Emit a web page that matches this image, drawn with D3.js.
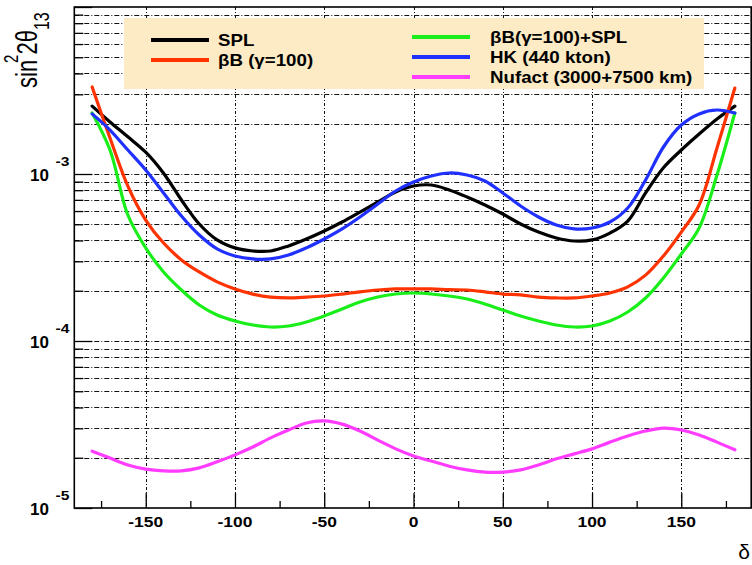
<!DOCTYPE html>
<html><head><meta charset="utf-8">
<script src="https://cdn.jsdelivr.net/npm/d3@7"></script>
<style>html,body{margin:0;padding:0;background:#fff;} svg{display:block;}</style>
</head><body>
<svg id="c" width="752" height="565"></svg>
<script>
// ---------------- data ----------------
const delta = [-180,-170,-160,-150,-140,-130,-120,-110,-100,-90,-80,-70,-60,-50,-40,-30,-20,-10,0,
               10,20,30,40,50,60,70,80,90,100,110,120,130,140,150,160,170,180];
const spl = [2.55e-3,2.05e-3,1.67e-3,1.35e-3,1.01e-3,6.99e-4,5.02e-4,4.03e-4,3.61e-4,3.46e-4,3.46e-4,3.71e-4,4.08e-4,
             4.56e-4,5.16e-4,5.92e-4,6.80e-4,7.80e-4,8.47e-4,8.59e-4,8.02e-4,7.28e-4,6.52e-4,5.76e-4,5.02e-4,4.49e-4,
             4.14e-4,3.97e-4,4.03e-4,4.43e-4,5.23e-4,7.70e-4,1.09e-3,1.392e-3,1.736e-3,2.135e-3,2.55e-3];
const betaBeam = [3.32e-3,1.643e-3,8.47e-4,5.30e-4,3.86e-4,3.06e-4,2.59e-4,2.26e-4,2.05e-4,1.91e-4,1.83e-4,1.81e-4,1.83e-4,
             1.86e-4,1.91e-4,1.97e-4,2.02e-4,2.05e-4,2.05e-4,2.05e-4,2.03e-4,2.02e-4,1.97e-4,1.91e-4,1.89e-4,1.83e-4,
             1.81e-4,1.81e-4,1.86e-4,1.94e-4,2.11e-4,2.48e-4,3.23e-4,4.49e-4,6.52e-4,1.431e-3,3.27e-3];
const betaBeamSpl = [2.32e-3,1.392e-3,5.68e-4,3.61e-4,2.59e-4,2.02e-4,1.643e-4,1.431e-4,1.318e-4,1.247e-4,1.213e-4,1.230e-4,1.300e-4,
             1.411e-4,1.554e-4,1.712e-4,1.834e-4,1.912e-4,1.939e-4,1.912e-4,1.860e-4,1.784e-4,1.666e-4,1.533e-4,1.411e-4,1.318e-4,
             1.247e-4,1.213e-4,1.230e-4,1.318e-4,1.492e-4,1.809e-4,2.384e-4,3.319e-4,4.75e-4,9.86e-4,2.32e-3];
const hk = [2.29e-3,1.834e-3,1.392e-3,1.057e-3,7.70e-4,5.60e-4,4.31e-4,3.56e-4,3.23e-4,3.10e-4,3.10e-4,3.27e-4,3.61e-4,
             4.08e-4,4.69e-4,5.53e-4,6.61e-4,7.91e-4,8.96e-4,9.73e-4,1.014e-3,9.86e-4,9.08e-4,7.70e-4,6.43e-4,5.53e-4,
             4.95e-4,4.69e-4,4.75e-4,5.16e-4,6.26e-4,9.21e-4,1.451e-3,1.965e-3,2.29e-3,2.417e-3,2.319e-3];
const nufact = [2.19e-5,1.99e-5,1.81e-5,1.71e-5,1.67e-5,1.67e-5,1.74e-5,1.89e-5,2.08e-5,2.32e-5,2.63e-5,2.93e-5,3.23e-5,
             3.32e-5,3.18e-5,2.89e-5,2.55e-5,2.26e-5,2.05e-5,1.91e-5,1.78e-5,1.69e-5,1.64e-5,1.64e-5,1.69e-5,1.81e-5,
             1.97e-5,2.11e-5,2.26e-5,2.48e-5,2.70e-5,2.89e-5,3.01e-5,2.93e-5,2.74e-5,2.48e-5,2.23e-5];

const seriesNames  = ["SPL", "βB (γ=100)", "βB(γ=100)+SPL", "HK (440 kton)", "Nufact (3000+7500 km)"];
const seriesColors = ["#000000", "#ff3300", "#1aee1a", "#1f30ff", "#ff3cff"];
const seriesValues = [spl, betaBeam, betaBeamSpl, hk, nufact];

const xTicks = [-150, -100, -50, 0, 50, 100, 150];
const xMinorTicks = [-175, -125, -75, -25, 25, 75, 125, 175];
const yDecades = [1e-5, 1e-4, 1e-3, 1e-2];
const yLabelExponents = ["-5", "-4", "-3"];
const yTitle = "sin";
const xTitle = "δ";

// ---------------- layout ----------------
const svg = d3.select("#c");
const L = 74.3, R = 752.7, T = 7, B = 508;
const x = d3.scaleLinear().domain([-190, 190]).range([L, R]);
const y = d3.scaleLog().domain([1e-5, 1e-2]).range([B, T]);

const yMinor = [];
[1e-5, 1e-4, 1e-3].forEach(d => { for (let m = 2; m <= 9; m++) yMinor.push(d * m); });

// grid
const grid = svg.append("g").attr("stroke", "#111").attr("stroke-width", 1).attr("fill", "none");
grid.selectAll("line.h").data(yMinor.concat([1e-4, 1e-3])).join("line")
  .attr("x1", L).attr("x2", R)
  .attr("y1", d => Math.round(y(d)) + 0.5).attr("y2", d => Math.round(y(d)) + 0.5)
  .attr("stroke-dasharray", "5,2,1,2");
grid.selectAll("line.v").data(xTicks).join("line")
  .attr("x1", d => Math.round(x(d)) + 0.5).attr("x2", d => Math.round(x(d)) + 0.5)
  .attr("y1", T).attr("y2", B)
  .attr("stroke-dasharray", "3,2,1,2");

// curves
const line = d3.line().x((d, i) => x(delta[i])).y(d => y(d)).curve(d3.curveCatmullRom.alpha(0.5));
seriesValues.forEach((vals, k) => {
  svg.append("path").datum(vals).attr("d", line)
    .attr("fill", "none").attr("stroke", seriesColors[k]).attr("stroke-width", 3.2)
    .attr("stroke-linejoin", "round").attr("stroke-linecap", "round");
});

// axes (ticks drawn inward with D3 axes)
function styleAxis(g) {
  g.select(".domain").remove();
  g.selectAll("text").remove();
  g.selectAll("line").attr("stroke", "#000").attr("stroke-width", 1.3);
}
svg.append("g").attr("transform", `translate(0,${B})`)
  .call(d3.axisBottom(x).tickValues(xTicks).tickSize(-15).tickFormat("")).call(styleAxis);
svg.append("g").attr("transform", `translate(0,${B})`)
  .call(d3.axisBottom(x).tickValues(xMinorTicks).tickSize(-7).tickFormat("")).call(styleAxis);
svg.append("g").attr("transform", `translate(${L},0)`)
  .call(d3.axisLeft(y).tickValues(yDecades).tickSize(-18).tickFormat("")).call(styleAxis);
svg.append("g").attr("transform", `translate(${L},0)`)
  .call(d3.axisLeft(y).tickValues(yMinor).tickSize(-9).tickFormat("")).call(styleAxis);

// frame
svg.append("rect").attr("x", L).attr("y", T).attr("width", R - L - 1.5).attr("height", B - T)
  .attr("fill", "none").attr("stroke", "#000").attr("stroke-width", 1.6);

// x tick labels
svg.append("g").selectAll("text").data(xTicks).join("text")
  .attr("transform", d => `translate(${x(d)},527) scale(1.2,1)`)
  .attr("text-anchor", "middle")
  .attr("font-family", "Liberation Sans, Arial, sans-serif").attr("font-weight", "bold")
  .attr("font-size", 14.5).text(d => String(d));

// y tick labels 10^n
yLabelExponents.forEach((e, i) => {
  const yy = y(yDecades[i]);
  svg.append("text").attr("x", 49).attr("y", yy + 6.8).attr("text-anchor", "end")
    .attr("font-family", "Liberation Sans, Arial, sans-serif").attr("font-weight", "bold")
    .attr("font-size", 17).text("10");
  svg.append("text").attr("transform", `translate(55.5,${yy - 8.5}) scale(1.25,1)`)
    .attr("font-family", "Liberation Sans, Arial, sans-serif").attr("font-weight", "bold")
    .attr("font-size", 12.5).text(e);
});

// y title
const yt = svg.append("text").attr("transform", "translate(37,88) scale(1.35,1) rotate(-90)")
  .attr("font-family", "Liberation Sans, Arial, sans-serif").attr("font-size", 22).attr("fill", "#000");
yt.append("tspan").text(yTitle);
yt.append("tspan").attr("font-size", 15).attr("dy", -14).attr("dx", -3).text("2");
yt.append("tspan").attr("dy", 14).text("2θ");
yt.append("tspan").attr("font-size", 16).attr("dy", 9).text("13");

// x title
svg.append("text").attr("x", 750).attr("y", 559).attr("text-anchor", "end")
  .attr("font-family", "Liberation Sans, Arial, sans-serif").attr("font-size", 21).text(xTitle);

// legend
const lg = svg.append("g");
lg.append("rect").attr("x", 124).attr("y", 18).attr("width", 580).attr("height", 71).attr("fill", "#fcebc4");
const legendPos = [
  {lx: 151, tx: 218, y: 40}, {lx: 151, tx: 218, y: 60},
  {lx: 412, tx: 490, y: 37}, {lx: 412, tx: 490, y: 57}, {lx: 412, tx: 490, y: 77}
];
seriesNames.forEach((name, k) => {
  const p = legendPos[k];
  lg.append("line").attr("x1", p.lx).attr("x2", p.lx + 58).attr("y1", p.y).attr("y2", p.y)
    .attr("stroke", seriesColors[k]).attr("stroke-width", 4);
  lg.append("text").attr("transform", `translate(${p.tx},${p.y + 6}) scale(1.17,1)`)
    .attr("font-family", "Liberation Sans, Arial, sans-serif").attr("font-weight", "bold")
    .attr("font-size", 16).text(name);
});
</script>
</body></html>
